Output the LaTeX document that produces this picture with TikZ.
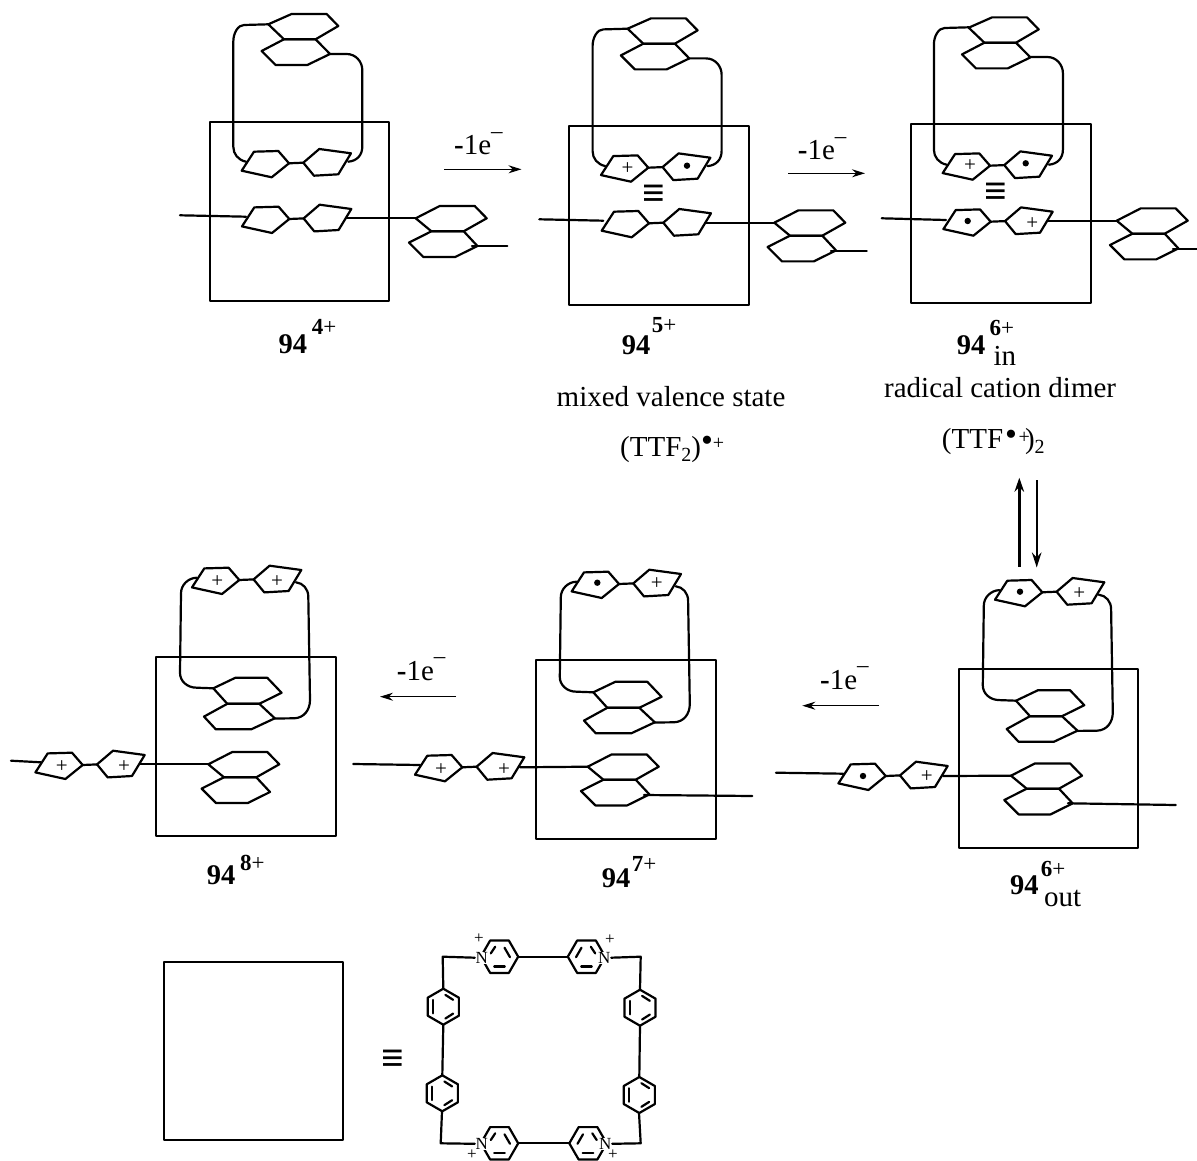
\documentclass[tikz,border=0pt]{standalone}
\usepackage{fontspec}
\setmainfont{Liberation Serif}
\usetikzlibrary{arrows.meta}
\tikzset{
  skel/.style={line width=2.2pt,line join=round,line cap=round},
  thinarrow/.style={line width=1.3pt,-{Stealth[length=13pt,width=8pt]}},
  lab/.style={anchor=base west,inner sep=0pt,font=\fontsize{29}{30}\selectfont},
  numlab/.style={anchor=base west,inner sep=0pt,font=\bfseries\fontsize{28.5}{30}\selectfont},
  suplab/.style={anchor=base west,inner sep=0pt,font=\fontsize{23}{24}\selectfont},
  pluslab/.style={inner sep=0pt,font=\fontsize{21}{21}\selectfont},
  smallplus/.style={inner sep=0pt,font=\fontsize{17}{17}\selectfont},
  nlab/.style={inner sep=0.6pt,fill=white,font=\fontsize{17}{17}\selectfont},
  equivlab/.style={inner sep=0pt,font=\bfseries\fontsize{40}{40}\selectfont}
}
\newcommand{\loseone}{{\bfseries -}1e\raisebox{16.5pt}{\fontsize{23}{23}\selectfont –}}
\newcommand{\supcharge}[1]{{\bfseries #1}+}
\newcommand{\ttfunit}[2]{\begin{scope}[shift={(#1,#2)}]
  \draw[skel] (-35,-11.6)--(-10.7,-12.3)--(0,0)--(-17.3,14)--(-47.3,7.4)--cycle;
  \draw[skel] (0,0)--(14.3,-0.6);
  \draw[skel] (14.3,-0.6)--(30.3,-14.3)--(62,-10)--(49.3,11)--(25,12.4)--cycle;
\end{scope}}
\newcommand{\naphU}[2]{\begin{scope}[shift={(#1,#2)}]
  \draw[skel] (0,0)--(23.3,-10.3)--(58.3,-10.3)--(70,1.7)--(47.3,15)--(15.7,15)--cycle;
  \draw[skel] (15.7,15)--(47.3,15)--(61.7,29.7)--(39,40.7)--(7.3,40.7)--(-6.7,26.7)--cycle;
\end{scope}}
\newcommand{\naphL}[2]{\begin{scope}[shift={(#1,#2)}]
  \draw[skel] (0,0)--(24,-12.3)--(59,-12.3)--(71,0)--(48,13)--(15.7,13)--cycle;
  \draw[skel] (15.7,13)--(48,13)--(61.7,27.7)--(39.5,38.7)--(7.7,38.7)--(-6.7,24.3)--cycle;
\end{scope}}
\newcommand{\naphB}[2]{\begin{scope}[shift={(#1,#2)}]
  \draw[skel] (0,0)--(22,-10.5)--(54,-10.5)--(68.3,4.5)--(46,15.5)--(14,15.5)--cycle;
  \draw[skel] (14,15.5)--(46,15.5)--(61.5,30)--(38,41)--(2.5,41)--(-9.3,28.3)--cycle;
\end{scope}}
\newcommand{\loopU}[2]{\begin{scope}[shift={(#1,#2)}]
  \draw[skel] (268.3,24.3)--(244,25) .. controls (238,25) and (233.3,33) .. (233.3,41.7)
     --(233.3,146.7) .. controls (233.3,154) and (238,160) .. (246,161.7);
  \draw[skel] (330,54)--(346.7,54) .. controls (356,54) and (362.3,62) .. (362.3,70)
     --(362.3,146.7) .. controls (362.3,155) and (357,161) .. (348.3,161.7);
\end{scope}}
\newcommand{\loopL}[2]{\begin{scope}[shift={(#1,#2)}]
  \draw[skel] (196.7,577.7) .. controls (188,578) and (181,585) .. (181,593.3)
     --(180,673) .. controls (180,681) and (187,687.7) .. (196.7,687.7)--(213.3,688.3);
  \draw[skel] (296,582.3) .. controls (303,583) and (308.3,589) .. (308.3,596.7)
     --(310,700) .. controls (310,710) and (304,718) .. (294,718.3)--(275,718.5);
\end{scope}}
\newcommand{\benzunit}[2]{\begin{scope}[shift={(#1,#2)}]
  \draw[skel] (30:18)--(90:18)--(150:18)--(210:18)--(270:18)--(330:18)--cycle;
  \draw[skel] (280:12)--(325:12);
  \draw[skel] (146:12)--(214:12);
  \draw[skel] (35:12)--(80:12);
\end{scope}}
\newcommand{\pyrL}[2]{\begin{scope}[shift={(#1,#2)}]
  \draw[skel] (0:18.7)--(60:18.7)--(120:18.7)--(180:18.7)--(240:18.7)--(300:18.7)--cycle;
  \draw[skel] (-5.3,9.7)--(5.3,9.7);
  \draw[skel] (-8.7,-3.3)--(-4.3,-10);
  \draw[skel] (5,-9)--(10.5,0.5);
\end{scope}}
\newcommand{\pyrR}[2]{\begin{scope}[shift={(#1,#2)}]
  \draw[skel] (0:18.7)--(60:18.7)--(120:18.7)--(180:18.7)--(240:18.7)--(300:18.7)--cycle;
  \draw[skel] (-5.3,9.7)--(5.3,9.7);
  \draw[skel] (-10.5,0.5)--(-5,-9);
  \draw[skel] (8.7,-3.3)--(4.3,-10);
\end{scope}}
\begin{document}
\begin{tikzpicture}[x=1pt,y=-1pt]
\useasboundingbox (0,0) rectangle (1197,1161);
%% ---------- panel 4+
\draw[skel] (210,121.7) rectangle (389.3,300.7);
\naphU{268.3}{24.3}
\loopU{0}{0}
\ttfunit{289}{163.3}
\ttfunit{289.3}{219}
\draw[skel] (180,215.3)--(246,216.7);
\draw[skel] (346,218.3)--(415.7,218.3);
\naphL{415.7}{218.3}
\draw[skel] (472,246)--(507.3,246);
\node[numlab] (n4) at (278.3,353.5) {94};
\node[suplab] (s4) at (311.7,334) {\supcharge{4}};
\node[lab] (e1) at (454,155) {\loseone};
\coordinate (a1s) at (444.3,169.3); \coordinate (a1e) at (521.5,169.3);
\draw[thinarrow] (a1s)--(a1e);
%% ---------- panel 5+
\draw[skel] (569.3,125.7) rectangle (749,305);
\naphU{627.6}{28.7}
\loopU{359.3}{4.4}
\ttfunit{648.3}{167.7}
\ttfunit{649}{223.3}
\draw[skel] (539.3,219.3)--(603.3,220.7);
\draw[skel] (705,222.7)--(774.3,222.7);
\naphL{774.3}{222.7}
\draw[skel] (831,250.7)--(866.7,250.7);
\node[pluslab] (p51) at (627.6,168.4) {+};
\fill (687,165.7) circle (3.2);
\node[equivlab] (q5) at (654.3,196) {≡};
\node[numlab] (n5) at (621.7,354.3) {94};
\node[suplab] (s5) at (651.7,332.7) {\supcharge{5}};
\node[lab] (t5) at (556.5,406) {mixed valence state};
\node[lab] (f5) at (620,456.7) {(TTF\raisebox{-5pt}{\fontsize{20}{20}\selectfont 2})\raisebox{5pt}{\fontsize{34}{34}\selectfont •}\raisebox{7.6pt}{\fontsize{20}{20}\selectfont +}};
\node[lab] (e2) at (797.7,160) {\loseone};
\coordinate (a2s) at (788.3,173.3); \coordinate (a2e) at (865,173.3);
\draw[thinarrow] (a2s)--(a2e);
%% ---------- panel 6+ in
\draw[skel] (911,124.3) rectangle (1090.7,303.3);
\naphU{968.7}{27.7}
\loopU{700.6}{3}
\ttfunit{990}{165.7}
\ttfunit{990.7}{221.7}
\draw[skel] (881.7,218.3)--(946,220);
\draw[skel] (1047,220.7)--(1116.7,220.7);
\naphL{1116.7}{220.7}
\draw[skel] (1173,249)--(1196.7,249);
\node[pluslab] (p61) at (970,165.7) {+};
\fill (1025.7,163.3) circle (3.2);
\node[equivlab] (q6) at (996,194) {≡};
\fill (967.7,221) circle (3.2);
\node[pluslab] (p62) at (1032.3,224) {+};
\node[numlab] (n6) at (956.7,354) {94};
\node[suplab] (s6) at (989.3,335) {\supcharge{6}};
\node[lab] (i6) at (993.3,365.7) {in};
\node[lab] (t6) at (884,397.3) {radical cation dimer};
\node[lab] (f6) at (941.7,448.3) {(TTF\hspace{2pt}\raisebox{2.4pt}{\fontsize{34}{34}\selectfont •}\hspace{1.7pt}\raisebox{5.2pt}{\fontsize{20}{20}\selectfont +}\hspace{-5pt})\raisebox{-5pt}{\fontsize{20}{20}\selectfont 2}};
%% ---------- equilibrium arrows
\coordinate (up1) at (1019.3,566.7); \coordinate (up2) at (1019.3,477.7);
\coordinate (dn1) at (1036.7,480); \coordinate (dn2) at (1036.7,567.5);
\draw[line width=2.8pt,-{Stealth[length=14pt,width=9.5pt]}] (up1)--(up2);
\draw[line width=2.1pt,-{Stealth[length=15pt,width=9.5pt]}] (dn1)--(dn2);
%% ---------- panel 6+ out
\draw[skel] (959,669) rectangle (1138.3,847.7);
\ttfunit{1042.3}{592.3}
\loopL{802.8}{12.4}
\naphB{1016}{700.7}
\ttfunit{885.7}{776}
\draw[skel] (776,772.7)--(843.3,773.7);
\draw[skel] (943.3,776)--(1011,775.7);
\naphL{1011}{775.7}
\draw[skel] (1068,803.3)--(1175.7,805);
\fill (1020,591.7) circle (3.2);
\node[pluslab] (p71) at (1079.3,593.3) {+};
\fill (863,776) circle (3.2);
\node[pluslab] (p72) at (926.7,777) {+};
\node[numlab] (n7) at (1010,894.3) {94};
\node[suplab] (s7) at (1040.7,876.7) {\supcharge{6}};
\node[lab] (o7) at (1044,906.7) {out};
\node[lab] (e3) at (820,689) {\loseone};
\coordinate (a3s) at (879,705.7); \coordinate (a3e) at (802.3,705.7);
\draw[thinarrow] (a3s)--(a3e);
%% ---------- panel 7+
\draw[skel] (536,660) rectangle (715.7,839.3);
\ttfunit{619}{584}
\loopL{379.8}{4}
\naphB{593.3}{692.3}
\ttfunit{462.3}{767.3}
\draw[skel] (353.3,764)--(420,765);
\draw[skel] (520,767.3)--(587.7,766.7);
\naphL{587.7}{766.7}
\draw[skel] (644,795)--(752.3,796);
\fill (597.3,582.7) circle (3.2);
\node[pluslab] (p81) at (656.7,584) {+};
\node[pluslab] (p82) at (441,769.3) {+};
\node[pluslab] (p83) at (504,769.3) {+};
\node[numlab] (n8) at (601.7,887.7) {94};
\node[suplab] (s8) at (631.7,871.7) {\supcharge{7}};
\node[lab] (e4) at (396.7,680) {\loseone};
\coordinate (a4s) at (456,696.7); \coordinate (a4e) at (380,696.7);
\draw[thinarrow] (a4s)--(a4e);
%% ---------- panel 8+
\draw[skel] (156.3,657.3) rectangle (335.7,836);
\ttfunit{239.3}{580}
\loopL{0}{0}
\naphB{213.3}{688.3}
\ttfunit{82.7}{765}
\draw[skel] (11,760.7)--(40.7,762.3);
\draw[skel] (140,764.3)--(208.3,764.3);
\naphL{208.3}{764.3}
\node[pluslab] (p91) at (217.3,581.7) {+};
\node[pluslab] (p92) at (277,581.7) {+};
\node[pluslab] (p93) at (61.7,766.7) {+};
\node[pluslab] (p94) at (124,766.7) {+};
\node[numlab] (n9) at (206.7,884.3) {94};
\node[suplab] (s9) at (240,870) {\supcharge{8}};
%% ---------- legend
\draw[skel] (164,962) rectangle (343,1140);
\node[equivlab] (q0) at (392.7,1060.7) {≡};
\pyrL{499.5}{956.7}
\pyrR{586.5}{956.7}
\pyrL{499.5}{1143.3}
\pyrR{588}{1143.3}
\benzunit{443.3}{1006.7}
\benzunit{442.3}{1093.3}
\benzunit{640}{1007.7}
\benzunit{639.3}{1095}
\node[nlab] (ntl) at (481.7,957.7) {N};
\node[nlab] (ntr) at (604.3,957.7) {N};
\node[nlab] (nbl) at (481.7,1143.8) {N};
\node[nlab] (nbr) at (605.3,1143.8) {N};
\node[smallplus] (ptl) at (479,939) {+};
\node[smallplus] (ptr) at (610,939.7) {+};
\node[smallplus] (pbl) at (472,1155) {+};
\node[smallplus] (pbr) at (613,1155) {+};
\draw[skel] (ntl.west)--(442.7,956.7)--(443.3,988.7);
\draw[skel] (ntr.east)--(640.7,956.7)--(640,989.7);
\draw[skel] (nbl.west)--(440.7,1143.3)--(442,1111.3);
\draw[skel] (nbr.east)--(640.7,1143.3)--(639,1113);
\draw[skel] (518.2,956.7)--(567.8,956.7);
\draw[skel] (518.2,1143.3)--(569.3,1143.3);
\draw[skel] (443.3,1024.7)--(442.3,1075.3);
\draw[skel] (640,1025.7)--(639.3,1077);
\end{tikzpicture}
\end{document}
